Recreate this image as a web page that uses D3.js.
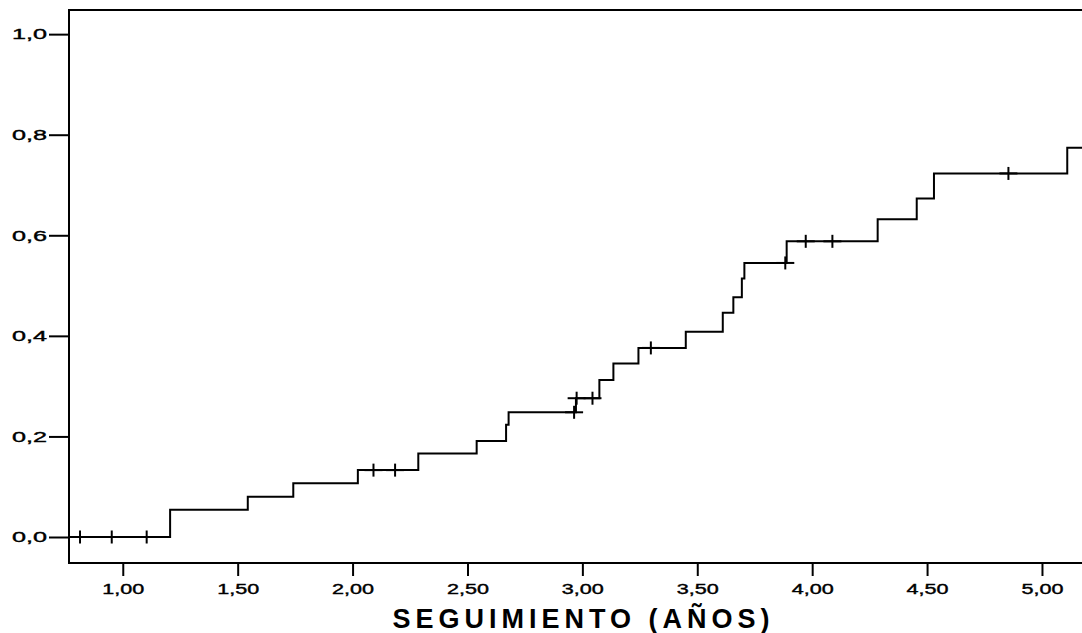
<!DOCTYPE html>
<html>
<head>
<meta charset="utf-8">
<script src="https://cdn.jsdelivr.net/npm/d3@7"></script>
<style>
    html, body { margin: 0; padding: 0; background: #fff; }
    svg { display: block; }
</style>
</head>
<body>
<svg id="chart" width="1082" height="633"></svg>
<script>
// ====================================
// Data
// ====================================
const eventTimes = [1.206, 1.544, 1.742, 2.023, 2.286, 2.540, 2.668, 2.679, 2.972, 3.074,
                    3.135, 3.244, 3.450, 3.611, 3.657, 3.694, 3.705, 3.889, 4.285, 4.455,
                    4.530, 5.110];
const cumValues  = [0.054, 0.080, 0.107, 0.133, 0.166, 0.191, 0.223, 0.248, 0.276, 0.312,
                    0.345, 0.376, 0.408, 0.446, 0.477, 0.514, 0.545, 0.588, 0.632, 0.673,
                    0.723, 0.774];
const censorTimes = [0.814, 0.952, 1.104, 2.091, 2.185, 2.964, 2.975, 3.044, 3.298, 3.883,
                     3.972, 4.088, 4.854];
const xTicks = [1.0, 1.5, 2.0, 2.5, 3.0, 3.5, 4.0, 4.5, 5.0];
const yTicks = [0.0, 0.2, 0.4, 0.6, 0.8, 1.0];
const xTitle = "SEGUIMIENTO (AÑOS)";

// ====================================
// Scales
// ====================================
const plotLeft = 69, plotRight = 1090, plotTop = 10, plotBottom = 563;

const x = d3.scaleLinear().domain([0.766, 5.209]).range([plotLeft, plotRight]);
const y = d3.scaleLinear().domain([-0.0517, 1.048]).range([plotBottom, plotTop]);

const svg = d3.select("#chart");

/**
 * Value of the cumulative curve at time t
 */
function valueAt(t) {
    const i = d3.bisectRight(eventTimes, t);
    return i === 0 ? 0 : cumValues[i - 1];
}

// frame (right edge falls outside the window)
svg.append("rect")
    .attr("x", plotLeft)
    .attr("y", plotTop)
    .attr("width", plotRight - plotLeft)
    .attr("height", plotBottom - plotTop)
    .attr("fill", "none")
    .attr("stroke", "#000")
    .attr("stroke-width", 2);

// ====================================
// Axes
// ====================================
const fmt = d => d3.format(".2f")(d).replace(".", ",");

const xAxis = svg.append("g")
    .attr("transform", `translate(0,${plotBottom})`)
    .call(d3.axisBottom(x).tickValues(xTicks).tickSize(13).tickPadding(7).tickFormat(fmt));

const yAxis = svg.append("g")
    .attr("transform", `translate(${plotLeft},0)`)
    .call(d3.axisLeft(y).tickValues(yTicks).tickSize(20).tickPadding(2)
        .tickFormat(d => d3.format(".1f")(d).replace(".", ",")));

[xAxis, yAxis].forEach(g => {
    g.select(".domain").remove();
    g.selectAll("line").attr("stroke", "#000").attr("stroke-width", 2);
    g.selectAll("text")
        .attr("fill", "#000")
        .attr("stroke", "#000")
        .attr("stroke-width", 0.4)
        .style("font-family", "'Liberation Sans', Arial, sans-serif")
        .style("font-size", "15px");
});

xAxis.selectAll("text").attr("textLength", 42).attr("lengthAdjust", "spacingAndGlyphs");
yAxis.selectAll("text").attr("textLength", 35).attr("lengthAdjust", "spacingAndGlyphs");

svg.append("text")
    .attr("x", 581)
    .attr("y", 628)
    .attr("text-anchor", "middle")
    .attr("textLength", 377)
    .attr("lengthAdjust", "spacing")
    .style("font-family", "'Liberation Sans', Arial, sans-serif")
    .style("font-weight", "bold")
    .style("font-size", "27px")
    .text(xTitle);

// ====================================
// Step curve
// ====================================
const points = [[x.domain()[0], 0]]
    .concat(eventTimes.map((t, i) => [t, cumValues[i]]))
    .concat([[x.domain()[1], cumValues[cumValues.length - 1]]]);

const plot = svg.append("g");

plot.append("path")
    .datum(points)
    .attr("fill", "none")
    .attr("stroke", "#000")
    .attr("stroke-width", 2)
    .attr("d", d3.line()
        .x(d => x(d[0]))
        .y(d => y(d[1]))
        .curve(d3.curveStepAfter));

// censor marks "+"
const marks = plot.selectAll(".censor")
    .data(censorTimes)
    .join("g")
    .attr("class", "censor")
    .attr("transform", t => `translate(${x(t)},${y(valueAt(t))})`);

marks.append("line")
    .attr("y1", -6.5).attr("y2", 6.5)
    .attr("stroke", "#000").attr("stroke-width", 2);

marks.append("line")
    .attr("x1", -9).attr("x2", 9)
    .attr("stroke", "#000").attr("stroke-width", 2);
</script>
</body>
</html>
